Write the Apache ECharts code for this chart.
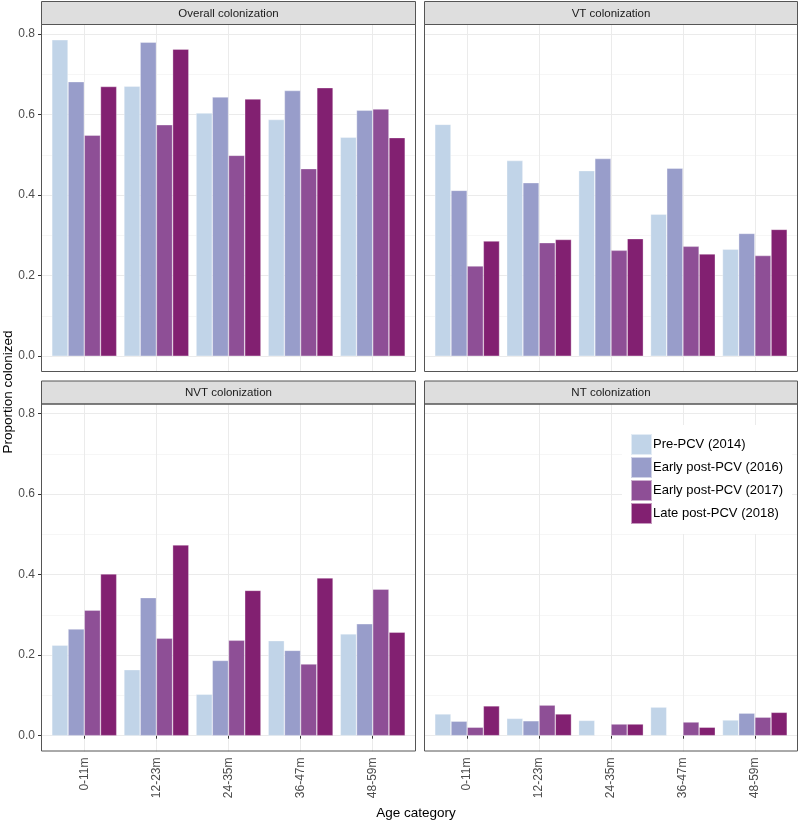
<!DOCTYPE html>
<html><head><meta charset="utf-8">
<script src="https://cdn.jsdelivr.net/npm/echarts@6/dist/echarts.min.js"></script>
<style>html,body{margin:0;padding:0;background:#fff}#c{width:800px;height:823px}</style>
</head><body><div id="c"></div>
<script>
// ---- data ----
const ageCats = ['0-11m', '12-23m', '24-35m', '36-47m', '48-59m'];
const seriesNames = ['Pre-PCV (2014)', 'Early post-PCV (2016)', 'Early post-PCV (2017)', 'Late post-PCV (2018)'];
const panelTitles = ['Overall colonization', 'VT colonization', 'NVT colonization', 'NT colonization'];
const yTicks = [0, 0.2, 0.4, 0.6, 0.8];

const overall2014 = [0.786, 0.671, 0.604, 0.588, 0.544];
const overall2016 = [0.682, 0.780, 0.644, 0.660, 0.611];
const overall2017 = [0.549, 0.575, 0.499, 0.466, 0.614];
const overall2018 = [0.670, 0.763, 0.639, 0.667, 0.543];

const vt2014 = [0.576, 0.486, 0.461, 0.353, 0.266];
const vt2016 = [0.412, 0.431, 0.491, 0.467, 0.305];
const vt2017 = [0.224, 0.282, 0.263, 0.273, 0.250];
const vt2018 = [0.286, 0.290, 0.292, 0.254, 0.315];

const nvt2014 = [0.225, 0.164, 0.103, 0.236, 0.253];
const nvt2016 = [0.265, 0.343, 0.187, 0.212, 0.278];
const nvt2017 = [0.312, 0.242, 0.237, 0.178, 0.364];
const nvt2018 = [0.402, 0.474, 0.361, 0.392, 0.257];

const nt2014 = [0.054, 0.043, 0.038, 0.071, 0.039];
const nt2016 = [0.036, 0.037, 0, 0, 0.056];
const nt2017 = [0.021, 0.076, 0.029, 0.034, 0.046];
const nt2018 = [0.074, 0.054, 0.029, 0.021, 0.058];

const panelData = [
  [overall2014, overall2016, overall2017, overall2018],
  [vt2014, vt2016, vt2017, vt2018],
  [nvt2014, nvt2016, nvt2017, nvt2018],
  [nt2014, nt2016, nt2017, nt2018]
];

// ---- style / layout ----
const colors = ['#C1D4E8', '#989DCA', '#8E4F96', '#822071'];
const FONT = '"Liberation Sans", Arial, Helvetica, sans-serif';
const panels = [
  {x: 41, y: 24, w: 375, h: 348, stripY: 1, left: true, bottom: false},
  {x: 424, y: 24, w: 374, h: 348, stripY: 1, left: false, bottom: false},
  {x: 41, y: 403.5, w: 375, h: 348, stripY: 380.5, left: true, bottom: true},
  {x: 424, y: 403.5, w: 374, h: 348, stripY: 380.5, left: false, bottom: true}
];
const stripH = 23;

let allVals = [];
panelData.forEach(p => p.forEach(s => allVals = allVals.concat(s)));
const yMaxData = Math.max(...allVals);
const lo = -0.05 * yMaxData, hi = 1.05 * yMaxData;
const yTop = yTicks[yTicks.length - 1];

const grid = [], xAxis = [], yAxis = [], series = [], graphic = [];

panels.forEach((p, i) => {
  const band = p.w / (ageCats.length + 0.2);
  // A: frame grid (vertical gridlines at category centres)
  grid.push({left: p.x, top: p.y, width: p.w, height: p.h, containLabel: false});
  xAxis.push({gridIndex: 3 * i, type: 'value', min: 1 - 0.6, max: ageCats.length + 0.6, splitNumber: 5,
    axisLine: {show: false}, axisTick: {show: false}, axisLabel: {show: false},
    splitLine: {show: true, showMinLine: false, showMaxLine: false, lineStyle: {color: '#ebebeb', width: 1}}});
  yAxis.push({gridIndex: 3 * i, type: 'value', min: lo, max: hi, show: false});
  // B: y tick grid (0..0.8)
  const bTop = p.y + (hi - yTop) / (hi - lo) * p.h;
  const bH = (yTop - 0) / (hi - lo) * p.h;
  grid.push({left: p.x, top: bTop, width: p.w, height: bH, containLabel: false});
  xAxis.push({gridIndex: 3 * i + 1, type: 'value', show: false});
  yAxis.push({gridIndex: 3 * i + 1, type: 'value', min: 0, max: yTop, interval: 0.2,
    axisLine: {show: false},
    axisTick: {show: p.left, length: 3, lineStyle: {color: '#333', width: 1}},
    axisLabel: {show: p.left, margin: 6, color: '#4d4d4d', fontSize: 12, fontFamily: FONT,
      formatter: v => v.toFixed(1)},
    splitLine: {show: true, lineStyle: {color: '#ebebeb', width: 1}},
    minorTick: {show: false, splitNumber: 2},
    minorSplitLine: {show: true, lineStyle: {color: '#f6f6f6', width: 1}}});
  // C: bar grid
  grid.push({left: p.x + 0.1 * band, top: p.y, width: p.w - 0.2 * band, height: p.h, containLabel: false});
  xAxis.push({gridIndex: 3 * i + 2, type: 'category', data: ageCats,
    axisLine: {show: false},
    axisTick: {show: p.bottom, alignWithLabel: true, length: 3, lineStyle: {color: '#333', width: 1}},
    axisLabel: {show: p.bottom, rotate: 90, margin: 6, color: '#4d4d4d', fontSize: 12, fontFamily: FONT},
    splitLine: {show: false}});
  yAxis.push({gridIndex: 3 * i + 2, type: 'value', min: lo, max: hi, show: false});

  panelData[i].forEach((vals, k) => {
    series.push({
      type: 'bar', name: seriesNames[k], xAxisIndex: 3 * i + 2, yAxisIndex: 3 * i + 2,
      data: vals, barGap: '0%', barCategoryGap: '10%',
      itemStyle: {color: colors[k], borderColor: 'rgba(255,255,255,0.55)', borderWidth: 0.6},
      emphasis: {disabled: true}
    });
  });

  // strip + border
  graphic.push({type: 'rect', z: 100, silent: true,
    shape: {x: p.x + 0.5, y: p.stripY + 0.5, width: p.w - 1, height: stripH},
    style: {fill: '#dedede', stroke: '#555', lineWidth: 1}});
  graphic.push({type: 'text', z: 101, silent: true,
    style: {text: panelTitles[i], x: p.x + p.w / 2, y: p.stripY + stripH / 2 + 1, align: 'center', verticalAlign: 'middle',
      font: '11.5px ' + FONT, fill: '#1a1a1a'}});
  graphic.push({type: 'rect', z: 100, silent: true,
    shape: {x: p.x + 0.5, y: p.y + 0.5, width: p.w - 1, height: p.h - 1},
    style: {fill: 'none', stroke: '#555', lineWidth: 1}});
});

// axis titles
graphic.push({type: 'text', z: 101, silent: true, rotation: Math.PI / 2, x: 8, y: 392,
  style: {text: 'Proportion colonized', x: 0, y: 0, align: 'center', verticalAlign: 'middle', font: '13.5px ' + FONT, fill: '#000'}});
graphic.push({type: 'text', z: 101, silent: true, x: 416, y: 813,
  style: {text: 'Age category', x: 0, y: 0, align: 'center', verticalAlign: 'middle', font: '13.5px ' + FONT, fill: '#000'}});

const chart = echarts.init(document.getElementById('c'), null, {renderer: 'canvas'});
chart.setOption({
  animation: false,
  backgroundColor: '#fff',
  grid, xAxis, yAxis, series, graphic,
  legend: {
    data: seriesNames, orient: 'vertical', left: 622, top: 425,
    itemWidth: 21, itemHeight: 21, itemGap: 0, padding: [8, 9, 9, 8],
    backgroundColor: '#fff', icon: 'rect', selectedMode: false,
    textStyle: {fontSize: 13, lineHeight: 15, color: '#000', fontFamily: FONT, padding: [0, 0, 0, -4]}
  }
});
</script></body></html>
